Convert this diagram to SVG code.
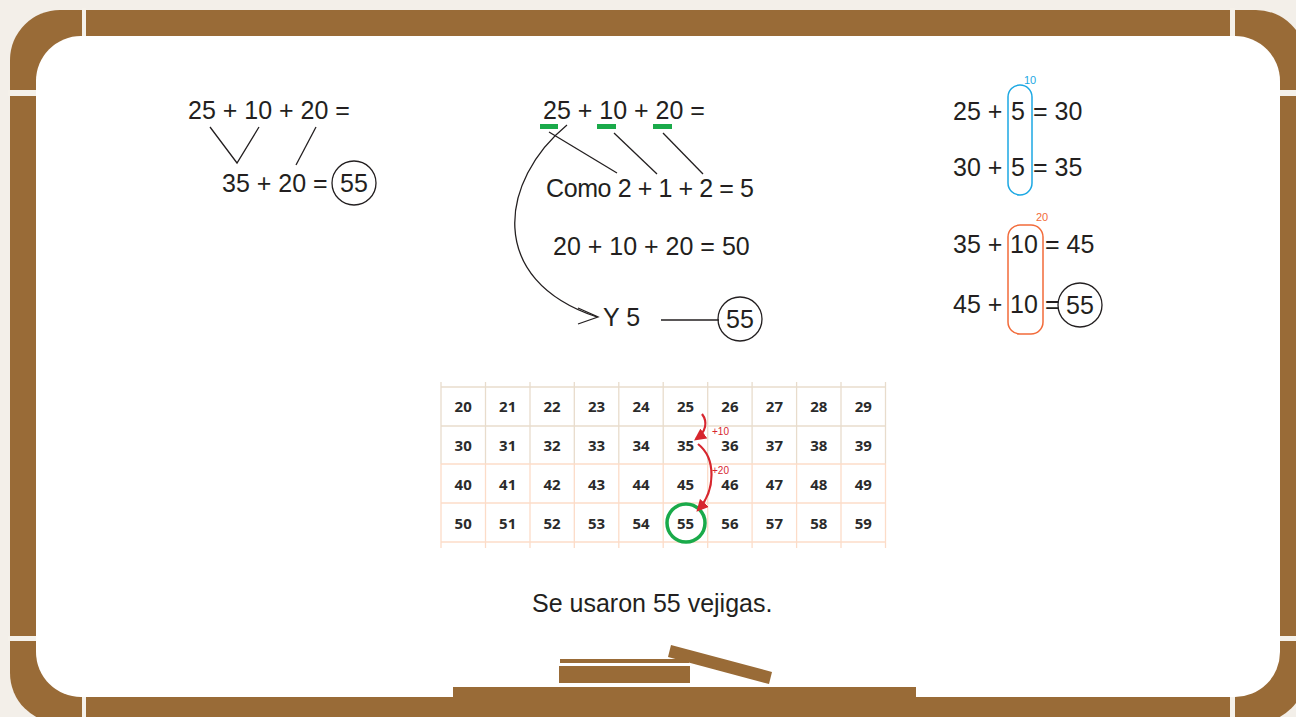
<svg xmlns="http://www.w3.org/2000/svg" width="1296" height="717" viewBox="0 0 1296 717">
<defs>
<style>
.t{font-family:"Liberation Sans",Arial,sans-serif;font-size:25px;fill:#231f20}
.g{font-family:"Open Sans","Liberation Sans",sans-serif;font-size:15px;font-weight:700;fill:#2b2b2b;text-anchor:middle}
.ln{stroke:#231f20;stroke-width:1.3;fill:none}
.ci{stroke:#231f20;stroke-width:1.3;fill:none}
.gap{fill:#f5f1ea}
.br{fill:#996b37}
.red{stroke:#d7262e;stroke-width:2.2;fill:none}
</style>
<marker id="ra" markerUnits="userSpaceOnUse" markerWidth="12" markerHeight="12" viewBox="0 0 10 10" refX="8" refY="5" orient="auto">
<path d="M0,0 L10,5 L0,10 z" fill="#d7262e"/>
</marker>
</defs>
<rect width="1296" height="717" fill="#f3efe9"/>
<g id="frame">
<rect class="br" x="10" y="10" width="1296" height="713" rx="50"/>
<rect class="gap" x="82" y="8" width="4" height="30"/>
<rect class="gap" x="1230" y="8" width="5" height="30"/>
<rect class="gap" x="82" y="695" width="4" height="24"/>
<rect class="gap" x="1230" y="695" width="5" height="24"/>
<rect class="gap" x="8" y="90" width="30" height="6"/>
<rect class="gap" x="1278" y="90" width="20" height="6"/>
<rect class="gap" x="8" y="636" width="30" height="5"/>
<rect class="gap" x="1278" y="636" width="20" height="5"/>
<rect x="36" y="36" width="1244" height="661" rx="45" fill="#ffffff"/>
<rect class="br" x="453" y="687" width="463" height="12"/>
<rect class="br" x="560" y="659" width="129" height="4"/>
<rect class="br" x="559" y="666" width="131" height="17"/>
<polygon class="br" points="671,645 772,672 769,684 668,657"/>
</g>
<g id="left">
<text class="t" x="188" y="119">25 + 10 + 20 =</text>
<text class="t" x="222" y="192">35 + 20 =</text>
<circle class="ci" cx="354" cy="183" r="22"/>
<text class="t" x="354" y="192" text-anchor="middle">55</text>
</g>
<g id="middle">
<text class="t" x="543" y="119">25 + 10 + 20 =</text>
<rect x="540" y="124" width="18" height="5" fill="#1aaa4a"/>
<rect x="597" y="124" width="19" height="5" fill="#1aaa4a"/>
<rect x="653" y="124" width="19" height="5" fill="#1aaa4a"/>
<text class="t" x="546" y="197" textLength="208">Como 2 + 1 + 2 = 5</text>
<text class="t" x="553" y="255">20 + 10 + 20 = 50</text>
<text class="t" x="603" y="326">Y 5</text>
<circle class="ci" cx="740" cy="319" r="22"/>
<text class="t" x="740" y="328" text-anchor="middle">55</text>
</g>
<g id="right">
<text class="t" x="953" y="120">25 +</text>
<text class="t" x="1011" y="120">5</text>
<text class="t" x="1033" y="120">= 30</text>
<text class="t" x="953" y="176">30 +</text>
<text class="t" x="1011" y="176">5</text>
<text class="t" x="1033" y="176">= 35</text>
<rect x="1008" y="85" width="24" height="110" rx="12" fill="none" stroke="#1ca8e3" stroke-width="1.5"/>
<text x="1030" y="84" font-family="Liberation Sans,Arial,sans-serif" font-size="11" fill="#1ca8e3" text-anchor="middle">10</text>
<text class="t" x="953" y="253">35 +</text>
<text class="t" x="1010" y="253">10</text>
<text class="t" x="1045" y="253">= 45</text>
<text class="t" x="953" y="313">45 +</text>
<text class="t" x="1010" y="313">10</text>
<text class="t" x="1045" y="313">=</text>
<rect x="1008" y="225" width="35" height="109" rx="12" fill="none" stroke="#f26b3a" stroke-width="1.5"/>
<text x="1042" y="221" font-family="Liberation Sans,Arial,sans-serif" font-size="11" fill="#f26b3a" text-anchor="middle">20</text>
<circle class="ci" cx="1080" cy="305" r="22"/>
<text class="t" x="1080" y="314" text-anchor="middle">55</text>
</g>
<g id="connectors">
<polyline class="ln" points="210,127 237,163 259,127"/>
<line class="ln" x1="316" y1="127" x2="296" y2="165"/>
<line class="ln" x1="549" y1="132" x2="617" y2="173"/>
<line class="ln" x1="614" y1="133" x2="657" y2="174"/>
<line class="ln" x1="663" y1="133" x2="703" y2="174"/>
<path class="ln" d="M567,125 C500,180 485,280 597,317"/>
<polyline class="ln" points="578,308 598,317 578,324"/>
<line class="ln" x1="661" y1="320" x2="719" y2="320"/>
</g>
<g id="grid">
<g stroke="#e8dccc" stroke-width="1.3">
<line x1="441" y1="387" x2="886" y2="387"/>
<line x1="441" y1="426" x2="886" y2="426"/>
<line x1="441" y1="382" x2="441" y2="464"/>
<line x1="485.5" y1="382" x2="485.5" y2="464"/>
<line x1="530" y1="382" x2="530" y2="464"/>
<line x1="574.3" y1="382" x2="574.3" y2="464"/>
<line x1="618.8" y1="382" x2="618.8" y2="464"/>
<line x1="663.2" y1="382" x2="663.2" y2="464"/>
<line x1="707.7" y1="382" x2="707.7" y2="464"/>
<line x1="752.1" y1="382" x2="752.1" y2="464"/>
<line x1="796.6" y1="382" x2="796.6" y2="464"/>
<line x1="841" y1="382" x2="841" y2="464"/>
<line x1="885.5" y1="382" x2="885.5" y2="464"/>
</g>
<g stroke="#fcdcc8" stroke-width="1.3">
<line x1="441" y1="464" x2="886" y2="464"/>
<line x1="441" y1="503" x2="886" y2="503"/>
<line x1="441" y1="542" x2="886" y2="542"/>
<line x1="441" y1="464" x2="441" y2="548"/>
<line x1="485.5" y1="464" x2="485.5" y2="548"/>
<line x1="530" y1="464" x2="530" y2="548"/>
<line x1="574.3" y1="464" x2="574.3" y2="548"/>
<line x1="618.8" y1="464" x2="618.8" y2="548"/>
<line x1="663.2" y1="464" x2="663.2" y2="548"/>
<line x1="707.7" y1="464" x2="707.7" y2="548"/>
<line x1="752.1" y1="464" x2="752.1" y2="548"/>
<line x1="796.6" y1="464" x2="796.6" y2="548"/>
<line x1="841" y1="464" x2="841" y2="548"/>
<line x1="885.5" y1="464" x2="885.5" y2="548"/>
</g>
<text class="g" y="412"><tspan x="463.2">20</tspan><tspan x="507.7">21</tspan><tspan x="552.1">22</tspan><tspan x="596.6">23</tspan><tspan x="641">24</tspan><tspan x="685.5">25</tspan><tspan x="729.9">26</tspan><tspan x="774.4">27</tspan><tspan x="818.8">28</tspan><tspan x="863.3">29</tspan></text>
<text class="g" y="451"><tspan x="463.2">30</tspan><tspan x="507.7">31</tspan><tspan x="552.1">32</tspan><tspan x="596.6">33</tspan><tspan x="641">34</tspan><tspan x="685.5">35</tspan><tspan x="729.9">36</tspan><tspan x="774.4">37</tspan><tspan x="818.8">38</tspan><tspan x="863.3">39</tspan></text>
<text class="g" y="490"><tspan x="463.2">40</tspan><tspan x="507.7">41</tspan><tspan x="552.1">42</tspan><tspan x="596.6">43</tspan><tspan x="641">44</tspan><tspan x="685.5">45</tspan><tspan x="729.9">46</tspan><tspan x="774.4">47</tspan><tspan x="818.8">48</tspan><tspan x="863.3">49</tspan></text>
<text class="g" y="529"><tspan x="463.2">50</tspan><tspan x="507.7">51</tspan><tspan x="552.1">52</tspan><tspan x="596.6">53</tspan><tspan x="641">54</tspan><tspan x="685.5">55</tspan><tspan x="729.9">56</tspan><tspan x="774.4">57</tspan><tspan x="818.8">58</tspan><tspan x="863.3">59</tspan></text>
<circle cx="686" cy="523" r="19" fill="none" stroke="#1aaa4a" stroke-width="3.5"/>
<path class="red" d="M702,414 C708,422 706,432 696,439" marker-end="url(#ra)"/>
<path class="red" d="M698,444 C716,458 716,490 698,510" marker-end="url(#ra)"/>
<text x="712" y="435" font-family="Liberation Sans,Arial,sans-serif" font-size="10" fill="#d7262e">+10</text>
<text x="712" y="474" font-family="Liberation Sans,Arial,sans-serif" font-size="10" fill="#d7262e">+20</text>
</g>
<g id="caption">
<text class="t" x="532" y="612" font-size="24">Se usaron 55 vejigas.</text>
</g>
</svg>
